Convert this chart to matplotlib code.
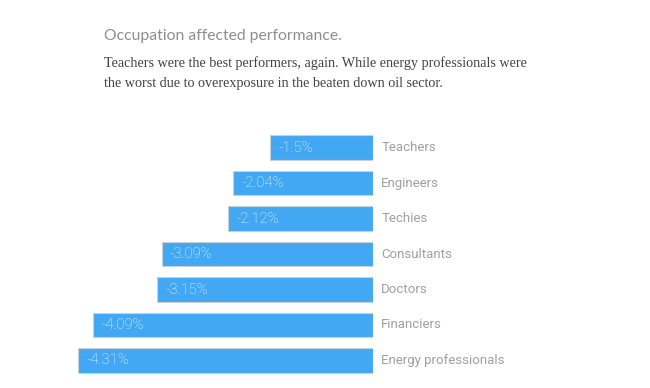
import matplotlib.pyplot as plt

# 数据
occupations = ['Teachers', 'Engineers', 'Techies', 'Consultants', 'Doctors', 'Financiers', 'Energy professionals']
returns = [-1.5, -2.04, -2.12, -3.09, -3.15, -4.09, -4.31]
value_labels = ['-1.5%', '-2.04%', '-2.12%', '-3.09%', '-3.15%', '-4.09%', '-4.31%']

W, H = 650, 388
fig = plt.figure(figsize=(W / 100, H / 100), dpi=100)

# 坐标轴位置 (像素 -> 比例)
left, right = 78, 373
top, bottom = 129.75, 378.25
ax = fig.add_axes([left / W, 1 - bottom / H, (right - left) / W, (bottom - top) / H])

ypos = list(range(len(occupations)))
ax.barh(ypos, returns, height=0.7, color='#42a8f4', edgecolor='#c8d0d8', linewidth=0.8)
ax.set_xlim(min(returns), 0)
ax.set_ylim(len(occupations) - 0.5, -0.5)
ax.axis('off')

for y, v, lab in zip(ypos, returns, value_labels):
    ax.annotate(lab, xy=(v, y), xytext=(6, 0), textcoords='offset points',
                va='center', ha='left', color='#f2f8ff', fontsize=10.5, family='Roboto', fontweight='light')
    ax.annotate(occupations[y], xy=(0, y), xytext=(6, 0), textcoords='offset points',
                va='center', ha='left', color='#a0a0a0', fontsize=9.5, family='Roboto')

# 标题
fig.text(104 / W, 1 - 36 / H, 'Occupation affected performance.', color='#8e8e8e',
         fontsize=11.3, family='Lato', va='center', ha='left')
fig.text(104 / W, 1 - 63 / H,
         'Teachers were the best performers, again. While energy professionals were',
         color='#444444', fontsize=10.2, family='Liberation Serif', va='center', ha='left')
fig.text(104 / W, 1 - 84 / H,
         'the worst due to overexposure in the beaten down oil sector.',
         color='#444444', fontsize=10.2, family='Liberation Serif', va='center', ha='left')

fig.savefig('out.png', dpi=100)
